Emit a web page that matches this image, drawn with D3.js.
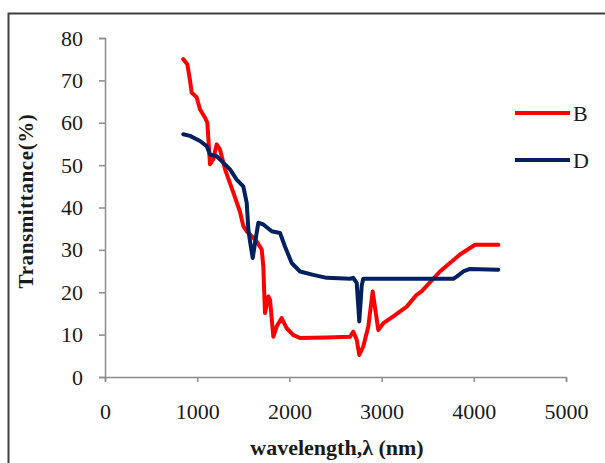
<!DOCTYPE html>
<html>
<head>
<meta charset="utf-8">
<script src="https://cdn.jsdelivr.net/npm/d3@7"></script>
<style>
  body { margin: 0; background: #fff; }
  svg { display: block; }
</style>
</head>
<body>
<script>
// transmittance curves
const seriesNames = ['B', 'D'];
const seriesColors = ['#ff0000', '#002060'];

const wlB = [849, 893, 922, 940, 994, 1030, 1085, 1110, 1139, 1175, 1211, 1247, 1302, 1392, 1464, 1500,
    1537, 1645, 1700, 1717, 1735, 1771, 1790, 1826, 1862, 1916, 1971, 2043, 2115, 2400, 2657, 2693,
    2730, 2758, 2801, 2856, 2903, 2964, 3019, 3127, 3272, 3380, 3434, 3633, 3850, 4013, 4266];
const tB = [75.0, 73.8, 70.0, 67.1, 66.0, 63.2, 61.2, 60.0, 50.2, 51.4, 54.9, 53.7, 49.0, 43.5, 39.0, 35.6,
    34.4, 32.0, 30.1, 26.1, 15.1, 19.0, 18.2, 9.5, 11.9, 13.9, 11.5, 9.9, 9.2, 9.3, 9.5, 10.7,
    8.8, 5.2, 7.2, 11.9, 20.2, 11.1, 12.7, 14.3, 16.6, 19.4, 20.2, 24.9, 28.9, 31.2, 31.2];

const wlD = [849, 922, 1030, 1103, 1139, 1211, 1283, 1356, 1428, 1500, 1537, 1555, 1573, 1602, 1627,
    1663, 1717, 1808, 1898, 1952, 2025, 2115, 2259, 2404, 2657, 2693, 2730, 2758, 2784, 2801,
    3778, 3814, 3886, 3959, 4266];
const tD = [57.3, 56.9, 55.7, 54.5, 52.5, 52.1, 50.6, 49.0, 46.6, 45.0, 41.1, 34.8, 32.0, 28.1, 31.6,
    36.4, 36.0, 34.4, 34.0, 30.8, 26.9, 24.9, 24.1, 23.4, 23.2, 23.4, 22.2, 13.1, 21.5, 23.2,
    23.2, 23.7, 24.9, 25.5, 25.3];

const xTicks = [0, 1000, 2000, 3000, 4000, 5000];
const yTicks = [0, 10, 20, 30, 40, 50, 60, 70, 80];

const width = 605;
const height = 463;
const margins = { top: 38, left: 105, right: 39, bottom: 86 };

const svg = d3.select('body').append('svg')
    .attr('width', width)
    .attr('height', height);

// outer frame, cut off at right and bottom
svg.append('rect')
    .attr('x', 8.5).attr('y', 13.5)
    .attr('width', 620).attr('height', 480)
    .attr('fill', 'none')
    .attr('stroke', '#404040')
    .attr('stroke-width', 2);

const xScale = d3.scaleLinear()
    .domain([0, 5000])
    .range([margins.left, width - margins.right]);

const yScale = d3.scaleLinear()
    .domain([0, 80])
    .range([height - margins.bottom, margins.top]);

const font = '"Liberation Serif", "Times New Roman", serif';

const xAxis = d3.axisBottom(xScale).tickValues(xTicks).tickSize(5).tickPadding(21).tickFormat(d3.format('d'));
const yAxis = d3.axisLeft(yScale).tickValues(yTicks).tickSize(6).tickPadding(16);

const gx = svg.append('g')
    .attr('transform', `translate(0, ${yScale(0)})`)
    .call(xAxis);
const gy = svg.append('g')
    .attr('transform', `translate(${xScale(0)}, 0)`)
    .call(yAxis);

[gx, gy].forEach(g => {
    g.select('.domain').attr('stroke', '#8c8c8c').attr('stroke-width', 1.5);
    g.selectAll('.tick line').attr('stroke', '#8c8c8c').attr('stroke-width', 1.5);
    g.selectAll('.tick text')
        .attr('fill', '#1a1a1a')
        .style('font-family', font)
        .style('font-size', '22px');
});

const line = d3.line()
    .x(d => xScale(d[0]))
    .y(d => yScale(d[1]));

const series = [
    d3.zip(wlB, tB),
    d3.zip(wlD, tD)
];

series.forEach((pts, i) => {
    svg.append('path')
        .datum(pts)
        .attr('d', line)
        .attr('fill', 'none')
        .attr('stroke', seriesColors[i])
        .attr('stroke-width', 4)
        .attr('stroke-linejoin', 'round')
        .attr('stroke-linecap', 'round');
});

// legend
const legend = svg.append('g');
seriesNames.forEach((name, i) => {
    const ly = 113 + i * 47;
    legend.append('line')
        .attr('x1', 515).attr('x2', 570)
        .attr('y1', ly).attr('y2', ly)
        .attr('stroke', seriesColors[i])
        .attr('stroke-width', 4);
    legend.append('text')
        .attr('x', 573).attr('y', ly + 8)
        .attr('fill', '#1a1a1a')
        .style('font-family', font)
        .style('font-size', '22px')
        .text(name);
});

// axis titles
svg.append('text')
    .attr('x', 337).attr('y', 455)
    .attr('text-anchor', 'middle')
    .attr('fill', '#1a1a1a')
    .style('font-family', font)
    .style('font-size', '22px')
    .style('font-weight', 'bold')
    .text('wavelength,λ (nm)');

svg.append('text')
    .attr('transform', 'translate(33, 201) rotate(-90)')
    .attr('text-anchor', 'middle')
    .attr('fill', '#1a1a1a')
    .style('font-family', font)
    .style('font-size', '21px')
    .style('font-weight', 'bold')
    .style('letter-spacing', '0.6px')
    .text('Transmittance(%)');
</script>
</body>
</html>
